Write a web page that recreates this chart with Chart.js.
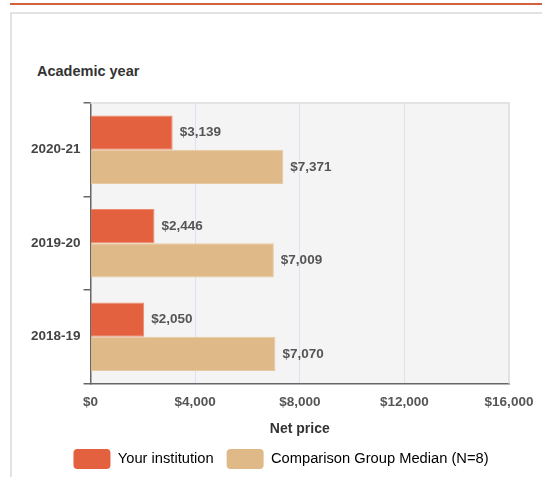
<!DOCTYPE html>
<html>
<head>
<meta charset="utf-8">
<script src="https://cdn.jsdelivr.net/npm/chart.js@4.4.0/dist/chart.umd.min.js"></script>
<style>
  html, body { margin: 0; padding: 0; background: #fff; }
  body { width: 542px; height: 477px; position: relative; overflow: hidden; font-family: "Liberation Sans", Arial, sans-serif; }
  .topbar { position: absolute; left: 10px; right: 0; top: 3px; height: 2px; background: #d4603e; }
  .panel { position: absolute; left: 10px; top: 12px; width: 600px; height: 500px; border-top: 2px solid #e2e2e2; border-left: 2px solid #e2e2e2; }
  .ytitle { position: absolute; left: 37px; top: 63px; font-weight: bold; font-size: 14.5px; color: #333; }
  canvas { position: absolute; left: 0; top: 0; }
</style>
</head>
<body>
<div class="topbar"></div>
<div class="panel"></div>
<div class="ytitle">Academic year</div>
<canvas id="chart" width="542" height="479"></canvas>
<script>
// data
const years = ["2020-21", "2019-20", "2018-19"];
const institution = [3139, 2446, 2050];
const comparison = [7371, 7009, 7070];
const xTicks = [0, 4000, 8000, 12000, 16000];

const money = (v) => "$" + v.toLocaleString("en-US");
const FONT = "'Liberation Sans', Arial, sans-serif";

// plot background + border
const plotBg = {
  id: "plotBg",
  beforeDraw(chart) {
    const { ctx, chartArea: a } = chart;
    ctx.save();
    ctx.fillStyle = "#f4f4f4";
    ctx.fillRect(a.left, a.top, a.right - a.left, a.bottom - a.top);
    ctx.restore();
  },
  beforeDatasetsDraw(chart) {
    const { ctx, chartArea: a } = chart;
    ctx.save();
    ctx.strokeStyle = "#e3e3e3";
    ctx.lineWidth = 2;
    ctx.beginPath();
    ctx.moveTo(a.left, a.top);
    ctx.lineTo(a.right, a.top);
    ctx.lineTo(a.right, a.bottom);
    ctx.stroke();
    ctx.restore();
  },
};

// value labels at bar ends
const barLabels = {
  id: "barLabels",
  afterDatasetsDraw(chart) {
    const { ctx } = chart;
    ctx.save();
    ctx.font = "bold 13.5px " + FONT;
    ctx.fillStyle = "#555";
    ctx.textBaseline = "middle";
    chart.data.datasets.forEach((ds, i) => {
      chart.getDatasetMeta(i).data.forEach((bar, j) => {
        ctx.fillText(money(ds.data[j]), bar.x + 7, bar.y);
      });
    });
    ctx.restore();
  },
};

new Chart(document.getElementById("chart"), {
  type: "bar",
  data: {
    labels: years,
    datasets: [
      {
        label: "Your institution",
        data: institution,
        backgroundColor: "#e4613f",
        borderColor: "#ee8a6e",
        borderWidth: 1,
      },
      {
        label: "Comparison Group Median (N=8)",
        data: comparison,
        backgroundColor: "#dfb987",
        borderColor: "#e8caa2",
        borderWidth: 1,
      },
    ],
  },
  options: {
    indexAxis: "y",
    responsive: false,
    animation: false,
    categoryPercentage: 0.735,
    barPercentage: 1.0,
    layout: { padding: { top: 103, left: 28, right: 8, bottom: 0 } },
    plugins: {
      legend: {
        position: "bottom",
        labels: {
          boxWidth: 37,
          boxHeight: 20,
          padding: 13,
          color: "#333",
          font: { family: FONT, size: 14.7 },
          generateLabels: (chart) =>
            chart.data.datasets.map((ds, i) => ({
              text: ds.label,
              fillStyle: ds.backgroundColor,
              strokeStyle: ds.backgroundColor,
              lineWidth: 0,
              borderRadius: 4,
              datasetIndex: i,
            })),
        },
      },
      tooltip: { enabled: false },
    },
    scales: {
      x: {
        min: 0,
        max: 16000,
        afterBuildTicks: (axis) => {
          axis.ticks = xTicks.map((v) => ({ value: v }));
        },
        afterFit: (axis) => {
          axis.paddingRight = 33;
        },
        grid: { color: "#dde4f0", drawTicks: false },
        border: { color: "#666", width: 1.5 },
        ticks: {
          padding: 12.5,
          color: "#555",
          font: { family: FONT, size: 13.5, weight: "bold", lineHeight: 1 },
          callback: (v) => money(v),
        },
        title: {
          display: true,
          text: "Net price",
          color: "#333",
          padding: { top: 0, bottom: 0 },
          font: { family: FONT, size: 14, weight: "bold", lineHeight: 1 },
        },
      },
      y: {
        grid: {
          offset: true,
          drawOnChartArea: false,
          color: "#666",
          tickLength: 7,
          lineWidth: 1.5,
        },
        border: { color: "#666", width: 1.5 },
        ticks: {
          padding: 3,
          color: "#444",
          font: { family: FONT, size: 13.5, weight: "bold" },
        },
      },
    },
  },
  plugins: [plotBg, barLabels],
});
</script>
</body>
</html>
